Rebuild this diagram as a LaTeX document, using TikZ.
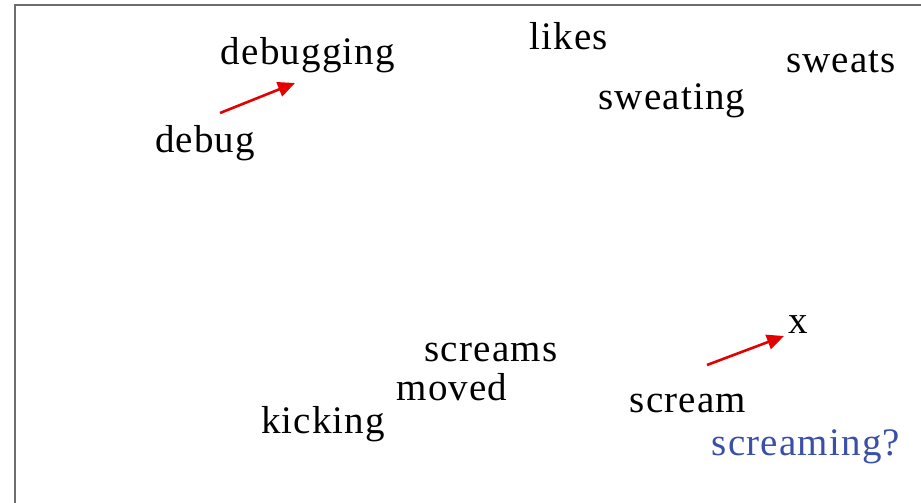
\documentclass[tikz,border=0pt]{standalone}
\usepackage{fontspec}
\setmainfont[LetterSpace=3]{Liberation Serif}
\usetikzlibrary{arrows.meta}

\definecolor{qblue}{RGB}{58,80,168}
\definecolor{framegray}{RGB}{110,110,110}

\begin{document}
\begin{tikzpicture}[x=1pt,y=-1pt,
    word/.style={anchor=base,inner sep=0pt,font=\fontsize{39}{46}\selectfont},
    offsetarrow/.style={draw=red!90!black,line width=2.6pt,-{Triangle[length=17pt,width=15pt]}}]
  \useasboundingbox (0,0) rectangle (921,503);
  \draw[framegray,line width=2pt] (14.5,5) rectangle (935,504);
  \draw
    (308,65) node[word] (debugging){debugging}
    (205,152) node[word] (debug){debug}
    (569,50) node[word] (likes){likes}
    (841,73) node[word] (sweats){sweats}
    (672,109) node[word] (sweating){sweating}
    (491,361) node[word] (screams){screams}
    (452,400) node[word] (moved){moved}
    (323,433) node[word] (kicking){kicking}
    (798,333) node[word] (x){x}
    (688,412) node[word] (scream){scream}
    (806,455) node[word,text=qblue] (screaming){screaming?};
  \coordinate (dbfrom) at (220,113);
  \coordinate (dbto) at (295,83);
  \coordinate (scfrom) at (707,365);
  \coordinate (scto) at (784,336);
  \begin{scope}[offsetarrow]
    \draw (dbfrom) -- (dbto);
    \draw (scfrom) -- (scto);
  \end{scope}
\end{tikzpicture}
\end{document}
